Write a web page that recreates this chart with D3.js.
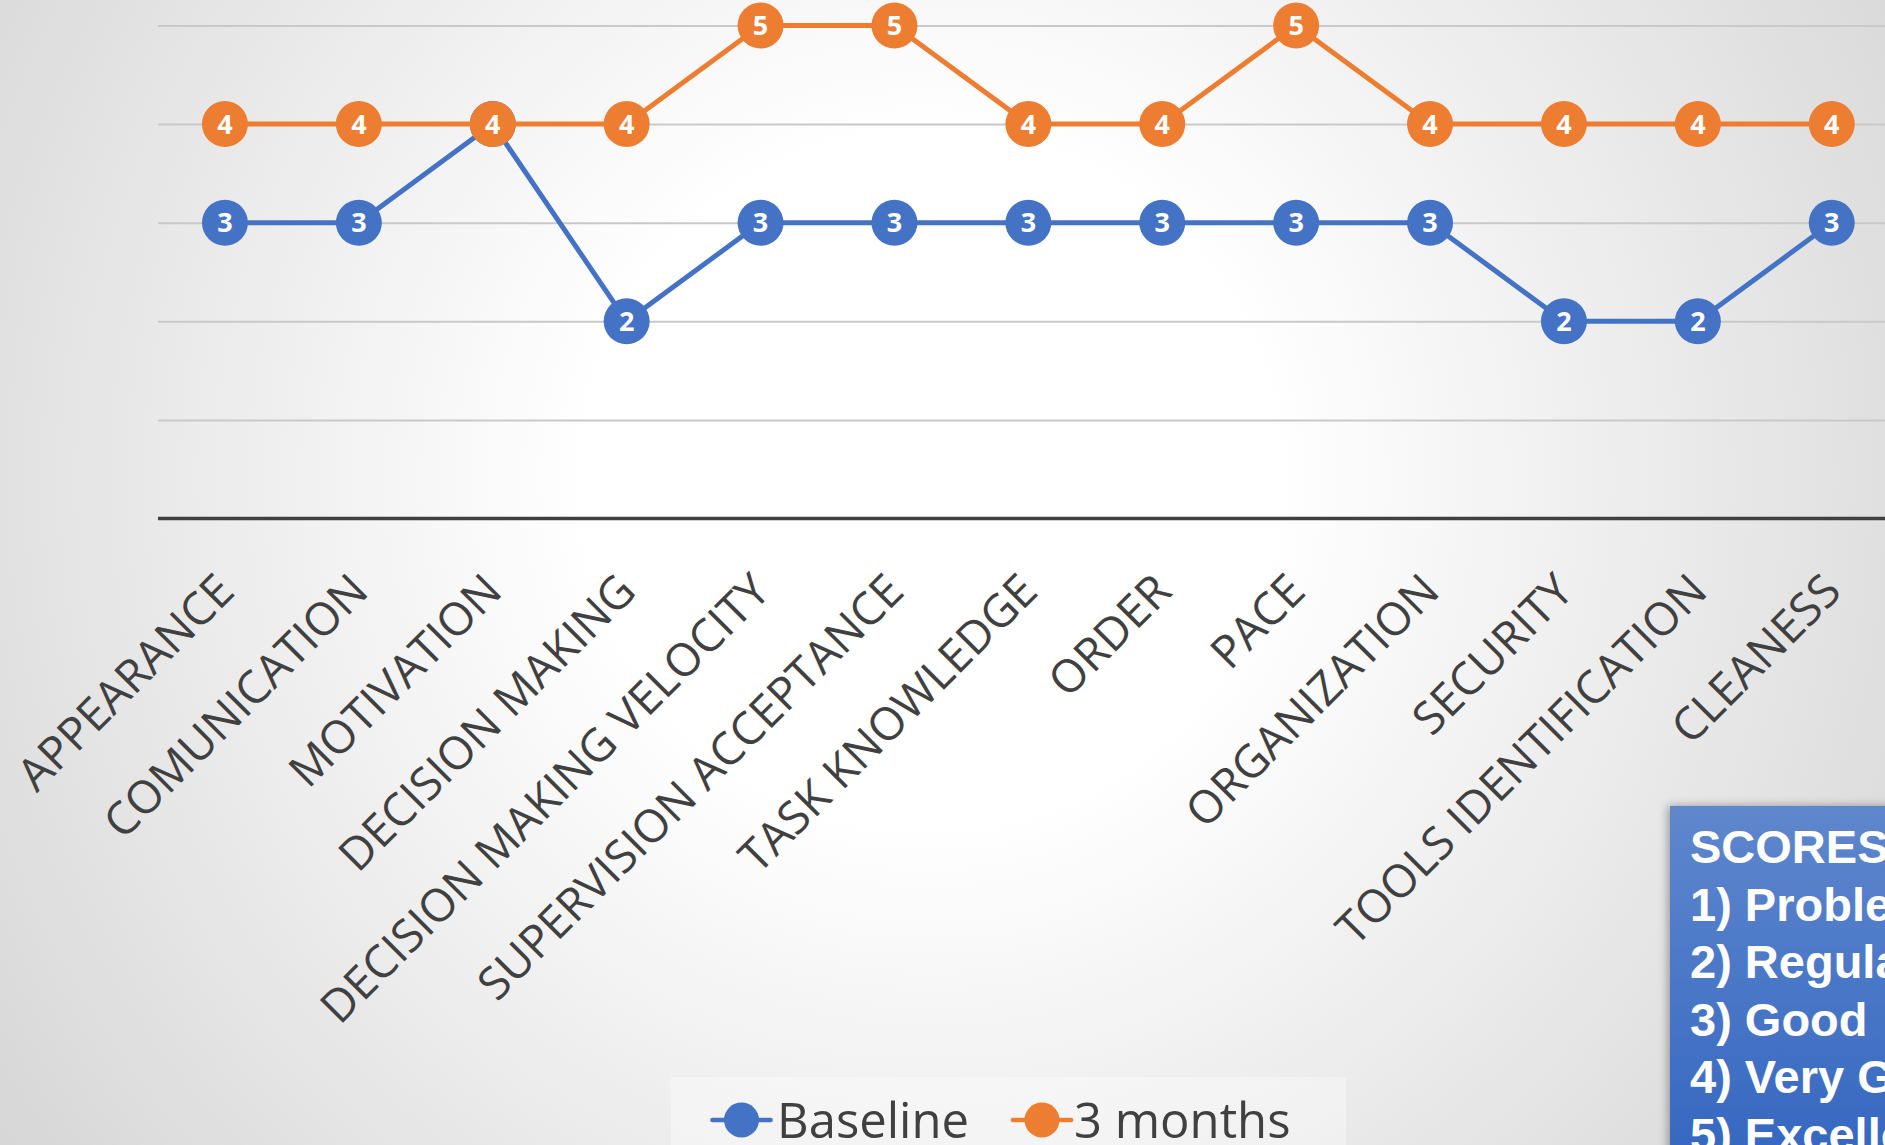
<!DOCTYPE html>
<html>
<head>
<meta charset="utf-8">
<script src="https://cdn.jsdelivr.net/npm/d3@7"></script>
<style>
  html, body { margin: 0; padding: 0; overflow: hidden; background: #fff; }
  svg { display: block; }
</style>
</head>
<body>
<script>
// ---- data ----
const categories = ["APPEARANCE", "COMUNICATION", "MOTIVATION", "DECISION MAKING",
  "DECISION MAKING VELOCITY", "SUPERVISION ACCEPTANCE", "TASK KNOWLEDGE", "ORDER",
  "PACE", "ORGANIZATION", "SECURITY", "TOOLS IDENTIFICATION", "CLEANESS"];
const baselineValues = [3, 3, 4, 2, 3, 3, 3, 3, 3, 3, 2, 2, 3];
const threeMonthValues = [4, 4, 4, 4, 5, 5, 4, 4, 5, 4, 4, 4, 4];
const seriesNames = ["Baseline", "3 months"];
const yTicks = [1, 2, 3, 4, 5];
const scoreLines = ["SCORES:", "1) Problematic", "2) Regular", "3) Good", "4) Very Good", "5) Excellent"];

const W = 1885, H = 1145;
const colors = ["#4472c4", "#ed7d31"];
const series = seriesNames.map((name, i) => ({
  name, color: colors[i], values: i === 0 ? baselineValues : threeMonthValues
}));

const svg = d3.select("body").append("svg").attr("width", W).attr("height", H);
const defs = svg.append("defs");

// background radial gradient
const bg = defs.append("radialGradient").attr("id", "bg")
  .attr("gradientUnits", "userSpaceOnUse")
  .attr("cx", 930).attr("cy", 480).attr("r", 1150);
bg.append("stop").attr("offset", "0%").attr("stop-color", "#ffffff");
bg.append("stop").attr("offset", "30%").attr("stop-color", "#ffffff");
bg.append("stop").attr("offset", "100%").attr("stop-color", "#d6d6d6");
svg.append("rect").attr("width", W).attr("height", H).attr("fill", "url(#bg)");

// scales
const x = d3.scaleBand().domain(categories).range([158, 158 + 13 * 133.9]);
const y = d3.scaleLinear().domain([0, 5]).range([518.5, 25.5]);
const cx = d => x(d) + x.bandwidth() / 2;

// gridlines
const grid = d3.axisLeft(y).tickValues(yTicks).tickSize(-(W - 158)).tickFormat("");
svg.append("g").attr("transform", "translate(158,0)").call(grid)
  .call(g => g.select(".domain").remove())
  .call(g => g.selectAll("line").attr("stroke", "#c9c9c9").attr("stroke-width", 2));

// x axis
const xAxis = d3.axisBottom(x).tickSize(0).tickSizeOuter(0);
const xg = svg.append("g").attr("transform", `translate(0,${y(0)})`).call(xAxis);
xg.select(".domain").attr("stroke", "#404040").attr("stroke-width", 3.5)
  .attr("d", `M158,0H${W}`);
xg.selectAll(".tick text")
  .attr("font-family", "'Open Sans', sans-serif")
  .attr("font-size", 45.5)
  .attr("fill", "#404040")
  .attr("text-anchor", "end")
  .attr("x", 0).attr("y", 0).attr("dy", "0.36em")
  .attr("transform", "translate(0,63.5) rotate(-45)");

// lines & markers
const line = d3.line().x((v, i) => cx(categories[i])).y(v => y(v));
series.forEach(s => {
  const g = svg.append("g");
  g.append("path").datum(s.values).attr("d", line)
    .attr("fill", "none").attr("stroke", s.color).attr("stroke-width", 5)
    .attr("stroke-linejoin", "round");
  const pts = g.selectAll("g.pt").data(s.values).join("g")
    .attr("transform", (v, i) => `translate(${cx(categories[i])},${y(v)})`);
  pts.append("circle").attr("r", 23).attr("fill", s.color);
  pts.append("text").text(v => v)
    .attr("text-anchor", "middle").attr("dy", "0.36em")
    .attr("font-family", "'Open Sans', sans-serif").attr("font-weight", 700)
    .attr("font-size", 27).attr("fill", "#ffffff");
});

// legend
svg.append("rect").attr("x", 671).attr("y", 1077).attr("width", 675).attr("height", 80)
  .attr("fill", "#ffffff").attr("opacity", 0.35);
const legendPos = [{mx: 741.5, tx: 777}, {mx: 1042, tx: 1074}];
series.forEach((s, i) => {
  const p = legendPos[i];
  const lg = svg.append("g");
  lg.append("line").attr("x1", p.mx - 29).attr("x2", p.mx + 29)
    .attr("y1", 1120).attr("y2", 1120)
    .attr("stroke", s.color).attr("stroke-width", 4.7).attr("stroke-linecap", "round");
  lg.append("circle").attr("cx", p.mx).attr("cy", 1120).attr("r", 17.5).attr("fill", s.color);
  lg.append("text").attr("x", p.tx).attr("y", 1138).text(s.name)
    .attr("font-family", "'Open Sans', sans-serif").attr("font-size", 49)
    .attr("fill", "#404040");
});

// score box
const boxGrad = defs.append("linearGradient").attr("id", "boxg")
  .attr("x1", 0).attr("y1", 0).attr("x2", 0).attr("y2", 1);
boxGrad.append("stop").attr("offset", "0%").attr("stop-color", "#5f87cd");
boxGrad.append("stop").attr("offset", "100%").attr("stop-color", "#3063bf");
const shadow = defs.append("filter").attr("id", "shadow")
  .attr("x", "-20%").attr("y", "-20%").attr("width", "140%").attr("height", "140%");
shadow.append("feDropShadow").attr("dx", -2).attr("dy", 0).attr("stdDeviation", 5)
  .attr("flood-color", "#000").attr("flood-opacity", 0.35);
svg.append("rect").attr("x", 1670).attr("y", 806).attr("width", 260).attr("height", 400)
  .attr("fill", "url(#boxg)").attr("filter", "url(#shadow)");
svg.append("g").selectAll("text").data(scoreLines).join("text")
  .attr("x", 1690).attr("y", (d, i) => 863 + i * 57.5)
  .text(d => d)
  .attr("font-family", "'Liberation Sans', Arial, sans-serif")
  .attr("font-weight", 700).attr("font-size", 47).attr("fill", "#ffffff");
</script>
</body>
</html>
